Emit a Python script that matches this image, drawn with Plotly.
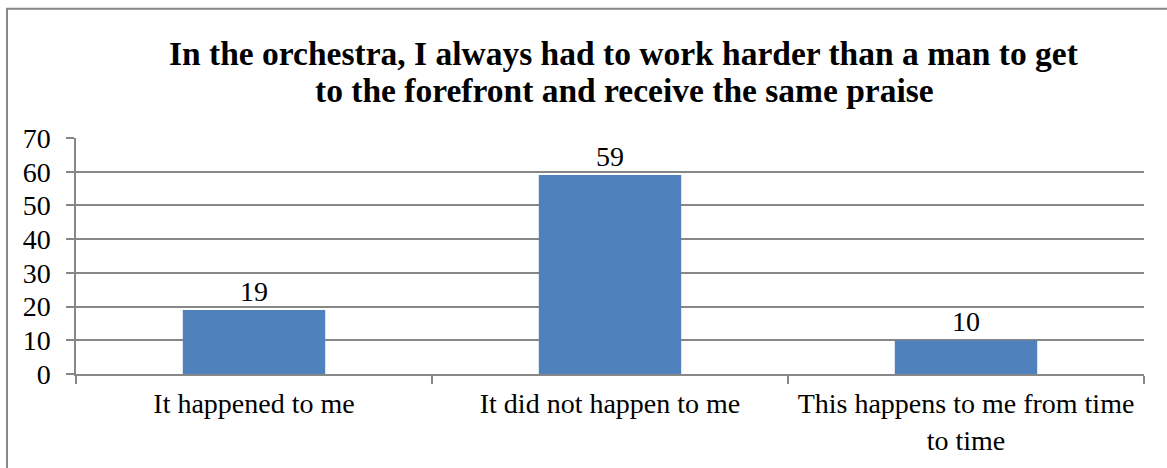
import plotly.graph_objects as go

categories = ["It happened to me", "It did not happen to me", "This happens to me from time<br>to time"]
values = [19, 59, 10]
y_ticks = [0, 10, 20, 30, 40, 50, 60, 70]
title_lines = [
    "In the orchestra, I always had to work harder than a man to get",
    "to the forefront and receive the same praise",
]

FONT = "Liberation Serif, Times New Roman, serif"
GRID = "#878787"

fig = go.Figure()
fig.add_trace(go.Bar(
    x=categories, y=values,
    marker=dict(color="#4F81BD", line=dict(width=0)),
    text=[str(v) for v in values], textposition="outside",
    textfont=dict(family=FONT, size=28, color="black"),
    cliponaxis=False,
))

L, R, T, B = 76, 23, 138, 91
W, H = 1167, 468
pw, ph = W - L - R, H - T - B

def px_x(x):
    return (x - L) / pw

def px_y(y):
    return (H - B - y) / ph

title_centers = [52, 90]
annotations = [
    dict(
        text="<b>" + line + "</b>", xref="paper", yref="paper",
        x=px_x(624), y=px_y(cy), xanchor="center", yanchor="middle",
        showarrow=False, font=dict(family=FONT, size=33.5, color="black"),
    )
    for line, cy in zip(title_lines, title_centers)
]

fig.update_layout(
    width=W, height=H,
    margin=dict(l=L, r=R, t=T, b=B),
    paper_bgcolor="white", plot_bgcolor="white",
    bargap=0.6,
    showlegend=False,
    font=dict(family=FONT, size=28, color="black"),
    xaxis=dict(
        type="category", showgrid=False, showline=True, linecolor=GRID, linewidth=1.5,
        ticks="outside", tickson="boundaries", ticklen=8, tickcolor=GRID, tickwidth=1.5,
        tickfont=dict(family=FONT, size=28, color="black"), ticklabelstandoff=4,
    ),
    yaxis=dict(
        range=[0, 70], tickvals=y_ticks, showgrid=True, gridcolor=GRID, gridwidth=1.5,
        showline=True, linecolor=GRID, linewidth=1.5, ticks="outside", ticklen=8,
        tickcolor=GRID, tickwidth=1.5, zeroline=False,
        tickfont=dict(family=FONT, size=28, color="black"), ticklabelstandoff=10,
    ),
    annotations=annotations,
    shapes=[dict(
        type="rect", xref="paper", yref="paper",
        x0=px_x(7), x1=px_x(1175), y0=px_y(478), y1=px_y(7),
        line=dict(color=GRID, width=2), fillcolor="rgba(0,0,0,0)", layer="below",
    )],
)

fig.write_html(
    "out.html",
    config={"displayModeBar": False},
    post_script="document.body.style.margin='0';document.body.style.overflow='hidden';",
)
